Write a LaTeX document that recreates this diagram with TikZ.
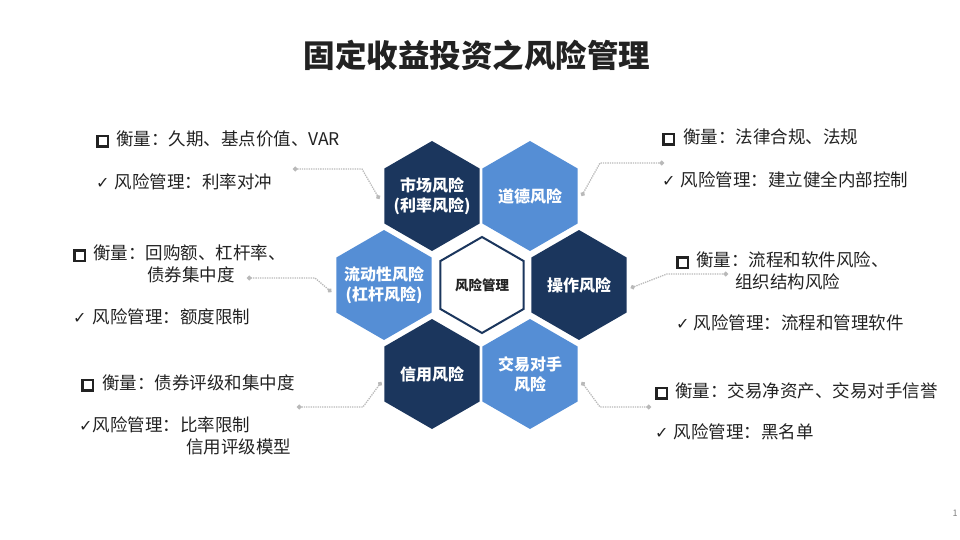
\documentclass[tikz,border=0pt]{standalone}
\usepackage{fontspec}
\setmainfont{Noto Sans CJK SC}
\newfontfamily\symfont{DejaVu Sans}
\usepackage{xcolor}
\usetikzlibrary{shapes.geometric,arrows.meta,positioning}

\definecolor{navy}{RGB}{27,54,93}
\definecolor{skyblue}{RGB}{85,142,213}
\definecolor{inkgray}{RGB}{34,34,34}
\newcommand{\sqbox}{{\setlength{\fboxrule}{2.4pt}\setlength{\fboxsep}{0pt}\fbox{\rule{0pt}{8pt}\rule{8pt}{0pt}}}}
\newcommand{\tick}{{\symfont\fontsize{16}{16}\selectfont ✓}}

\begin{document}
\begin{tikzpicture}[x=1pt,y=-1pt]
    \tikzstyle{hexa}=[regular polygon,regular polygon sides=6,shape border rotate=30,
      minimum size=110pt,inner sep=0pt,outer sep=0pt]
    \tikzstyle{hextext}=[text=white,align=center,inner sep=0pt,
      font=\fontsize{16}{20}\selectfont\bfseries]
    \tikzstyle{darkhex}=[hexa,fill=navy]
    \tikzstyle{lighthex}=[hexa,fill=skyblue]
    \tikzstyle{item}=[anchor=west,inner sep=0pt,align=left,text=inkgray,
      font=\fontsize{17.5}{22}\selectfont]
    \tikzstyle{link}=[densely dotted,draw=gray!55,line width=1.3pt,
      {Circle[length=4.5pt,fill=gray!55]}-{Circle[length=4.5pt,fill=gray!55]}]

    \useasboundingbox (0,0) rectangle (960,540);

    \node[text=inkgray,font=\fontsize{31.5}{36}\selectfont\bfseries] (title) at (477,55)
      {固定收益投资之风险管理};

    \node[darkhex,label={[hextext]center:{市场风险\\(利率风险)}}] (market) at (432,196) {};
    \node[lighthex,label={[hextext]center:道德风险}] (moral) at (530,196) {};
    \node[lighthex,label={[hextext]center:{流动性风险\\(杠杆风险)}}] (liquid) at (384,285) {};
    \node[hexa,minimum size=96pt,fill=white,draw=navy,line width=2pt,
      label={[hextext,text=inkgray,font=\fontsize{13.5}{16}\selectfont\bfseries]center:风险管理}]
      (core) at (482,285) {};
    \node[darkhex,label={[hextext]center:操作风险}] (oper) at (579,285) {};
    \node[darkhex,label={[hextext]center:信用风险}] (credit) at (432,374) {};
    \node[lighthex,label={[hextext]center:{交易对手\\风险}}] (counter) at (530,374) {};

    \node[item] (mkt1) at (96,139) {\sqbox\hspace{7pt}衡量：久期、基点价值、VAR};
    \node[item] (mkt2) at (96,182) {\tick\hspace{5pt}风险管理：利率对冲};
    \node[item] (liq1) at (73,264) {\sqbox\hspace{7pt}衡量：回购额、杠杆率、\\\hspace*{74pt}债券集中度};
    \node[item] (liq2) at (73,317) {\tick\hspace{6pt}风险管理：额度限制};
    \node[item] (cre1) at (81,383) {\sqbox\hspace{8pt}衡量：债券评级和集中度};
    \node[item] (cre2) at (79,436) {\tick\hspace{0pt}风险管理：比率限制\\\hspace*{107pt}信用评级模型};

    \node[item] (mor1) at (662,137) {\sqbox\hspace{8pt}衡量：法律合规、法规};
    \node[item] (mor2) at (662,180) {\tick\hspace{5pt}风险管理：建立健全内部控制};
    \node[item] (ope1) at (676,271) {\sqbox\hspace{7pt}衡量：流程和软件风险、\\\hspace*{59pt}组织结构风险};
    \node[item] (ope2) at (676,323) {\tick\hspace{4pt}风险管理：流程和管理软件};
    \node[item] (cou1) at (655,391) {\sqbox\hspace{7pt}衡量：交易净资产、交易对手信誉};
    \node[item] (cou2) at (655,432) {\tick\hspace{5pt}风险管理：黑名单};

    \coordinate (mktbend) at (362,169);
    \coordinate (mktend) at (293,169);
    \coordinate (liqbend) at (315,278);
    \coordinate (liqend) at (247,278);
    \coordinate (crebend) at (363,407);
    \coordinate (creend) at (297,407);
    \coordinate (morbend) at (600,163);
    \coordinate (morend) at (664,163);
    \coordinate (opebend) at (667,274);
    \coordinate (opeend) at (728,274);
    \coordinate (coubend) at (600,407);
    \coordinate (couend) at (651,407);

    \draw[link] ([xshift=-5pt,yshift=-3pt]market.west) -- (mktbend) -- (mktend);
    \draw[link] ([xshift=-5pt,yshift=-7pt]liquid.west) -- (liqbend) -- (liqend);
    \draw[link] ([xshift=-3pt,yshift=-8pt]credit.west) -- (crebend) -- (creend);
    \draw[link] ([xshift=4pt]moral.east) -- (morbend) -- (morend);
    \draw[link] ([xshift=4pt,yshift=-3pt]oper.east) -- (opebend) -- (opeend);
    \draw[link] ([xshift=4pt,yshift=-8pt]counter.east) -- (coubend) -- (couend);

    \node[text=gray,font=\fontsize{9}{9}\selectfont] (pageno) at (955,513) {1};
\end{tikzpicture}
\end{document}
